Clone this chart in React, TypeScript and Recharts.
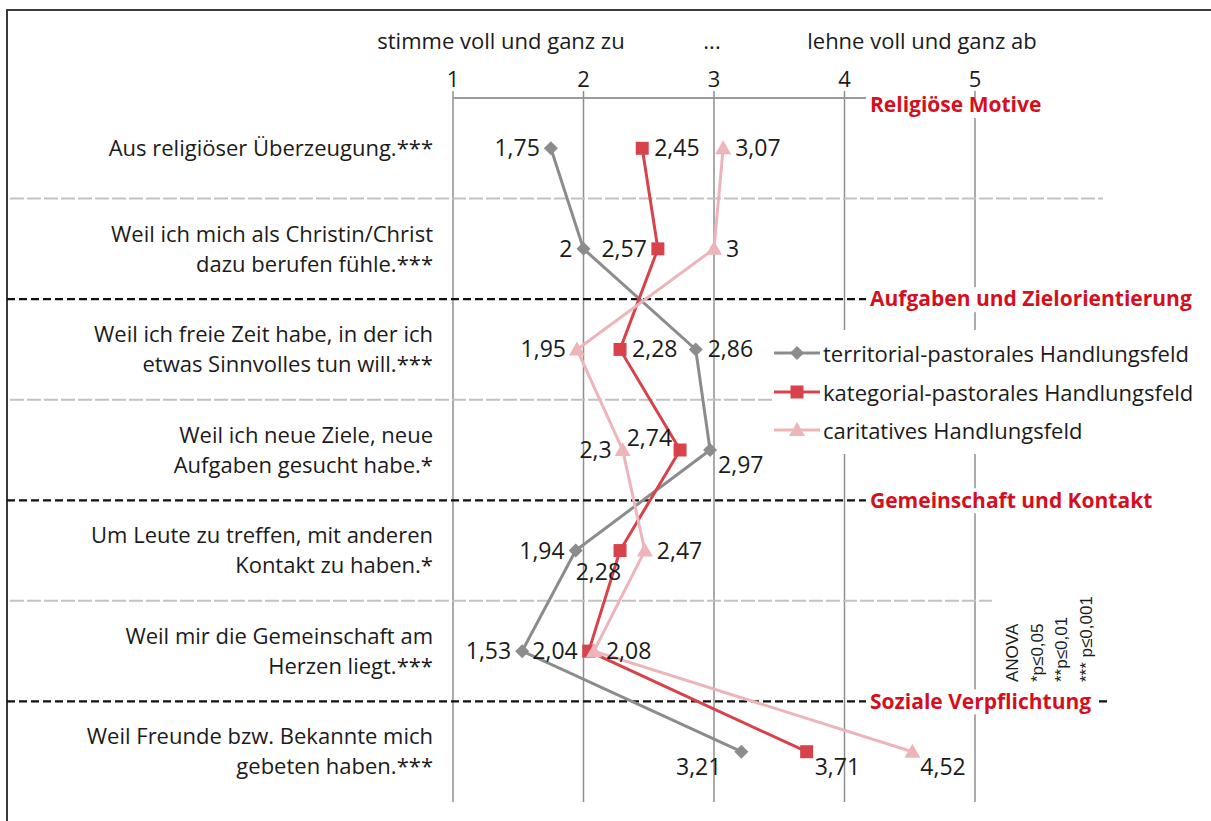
import { LineChart, Line, XAxis, YAxis, CartesianGrid, ReferenceLine, Legend } from "recharts";

const categories = [
  "Aus religiöser Überzeugung.***",
  "Weil ich mich als Christin/Christ\ndazu berufen fühle.***",
  "Weil ich freie Zeit habe, in der ich\netwas Sinnvolles tun will.***",
  "Weil ich neue Ziele, neue\nAufgaben gesucht habe.*",
  "Um Leute zu treffen, mit anderen\nKontakt zu haben.*",
  "Weil mir die Gemeinschaft am\nHerzen liegt.***",
  "Weil Freunde bzw. Bekannte mich\ngebeten haben.***",
];

const territorial = [1.75, 2, 2.86, 2.97, 1.94, 1.53, 3.21];
const kategorial = [2.45, 2.57, 2.28, 2.74, 2.28, 2.04, 3.71];
const caritativ = [3.07, 3, 1.95, 2.3, 2.47, 2.08, 4.52];

const xTicks = [1, 2, 3, 4, 5];

// section headings sit on the line above the given category
const sections = [
  { name: "Religiöse Motive", before: 1 },
  { name: "Aufgaben und Zielorientierung", before: 3 },
  { name: "Gemeinschaft und Kontakt", before: 5 },
  { name: "Soziale Verpflichtung", before: 7 },
];
const subDividers = [2, 4, 6];

const data = categories.map((label, i) => ({
  pos: i + 1,
  label,
  territorial: territorial[i],
  kategorial: kategorial[i],
  caritativ: caritativ[i],
}));

const FONT = "'Open Sans', Lato, sans-serif";
const TXT = "#1b1b1b";

type Place = "l" | "r" | "bl" | "br" | "al" | "b";

const series = [
  { key: "territorial", name: "territorial-pastorales Handlungsfeld", color: "#8c8c8c", marker: "diamond", places: ["l", "l", "r", "br", "l", "l", "bl"] as Place[] },
  { key: "kategorial", name: "kategorial-pastorales Handlungsfeld", color: "#d8434b", marker: "square", places: ["r", "l", "r", "al", "b", "l", "br"] as Place[] },
  { key: "caritativ", name: "caritatives Handlungsfeld", color: "#ecb5ba", marker: "triangle", places: ["r", "r", "l", "l", "r", "r", "br"] as Place[] },
];

function Marker({ cx, cy, kind, color }: { cx: number; cy: number; kind: string; color: string }) {
  if (kind === "diamond")
    return <polygon points={`${cx},${cy - 7} ${cx + 7},${cy} ${cx},${cy + 7} ${cx - 7},${cy}`} fill={color} />;
  if (kind === "square")
    return <rect x={cx - 6.5} y={cy - 6.5} width={13} height={13} fill={color} />;
  return <polygon points={`${cx},${cy - 8} ${cx + 8},${cy + 6} ${cx - 8},${cy + 6}`} fill={color} />;
}

const fmt = (v: number) => String(v).replace(".", ",");

function makeLabel(places: Place[]) {
  return (p: any) => {
    const place = places[p.index];
    let dx = 0;
    let dy = 0;
    let anchor: "start" | "end" | "middle" = "start";
    if (place === "l") { dx = -11; anchor = "end"; }
    if (place === "r") { dx = 12; }
    if (place === "br") { dx = 8; dy = 15; }
    if (place === "bl") { dx = -20; dy = 15; anchor = "end"; }
    if (place === "al") { dx = -8; dy = -12; anchor = "end"; }
    if (place === "b") { dx = 1; dy = 21; anchor = "end"; }
    return (
      <text key={`l${p.index}`} x={p.x + dx} y={p.y + dy} dy="0.35em" textAnchor={anchor} fontSize={23} fill={TXT} fontFamily={FONT}>
        {fmt(p.value)}
      </text>
    );
  };
}

function CategoryTick({ y, payload }: any) {
  const lines = categories[payload.value - 1].split("\n");
  const lh = 30;
  const start = y - ((lines.length - 1) * lh) / 2;
  return (
    <text textAnchor="end" fontSize={22} fill={TXT} fontFamily={FONT}>
      {lines.map((l, i) => (
        <tspan key={i} x={433} y={start + i * lh} dy="0.35em">{l}</tspan>
      ))}
    </text>
  );
}

function sectionShape(name: string, top: boolean) {
  return (p: any) => {
    const y = p.y1;
    const ty = top ? y + 7 : y;
    return (
      <g>
        {top ? (
          <line x1={p.x1} x2={p.x2} y1={y} y2={y} stroke="#9b9b9b" strokeWidth={2} />
        ) : (
          <line x1={7} x2={1110} y1={y} y2={y} stroke="#111" strokeWidth={2.2} strokeDasharray="8 4" />
        )}
        <rect x={866} y={ty - 12} width={name.length * 10.8 + 4} height={25} fill="#fff" />
        <text x={870} y={ty} dy="0.35em" fill="#d4101e" fontWeight={700} fontSize={21} fontFamily={FONT}>
          {name}
        </text>
      </g>
    );
  };
}

const dividerShape = (p: any) => (
  <line x1={10} x2={1103} y1={p.y1} y2={p.y1} stroke="#c2c2c2" strokeWidth={2} strokeDasharray="14 3" />
);

function LegendBox() {
  return (
    <div style={{ background: "#fff", width: 436, padding: "4px 0", fontFamily: FONT, fontSize: 22, color: TXT }}>
      {series.map((s) => (
        <div key={s.key} style={{ display: "flex", alignItems: "center", height: 38.5 }}>
          <svg width={50} height={20}>
            <line x1={2} x2={48} y1={10} y2={10} stroke={s.color} strokeWidth={3} />
            <Marker cx={25} cy={10} kind={s.marker} color={s.color} />
          </svg>
          <span style={{ marginLeft: 1, whiteSpace: "nowrap" }}>{s.name}</span>
        </div>
      ))}
    </div>
  );
}

const anova = [
  { text: "ANOVA", x: 1013 },
  { text: "*p≤0,05", x: 1038 },
  { text: "**p≤0,01", x: 1062 },
  { text: "*** p≤0,001", x: 1087 },
];

const headers = [
  { text: "stimme voll und ganz zu", x: 501 },
  { text: "...", x: 712 },
  { text: "lehne voll und ganz ab", x: 922 },
];

export default function App() {
  return (
    <div style={{ position: "absolute", left: 0, top: 0, width: 1211, height: 821, background: "#fff", overflow: "hidden", fontFamily: FONT }}>
      <div style={{ position: "absolute", left: 6, top: 9, width: 1300, height: 900, borderTop: "2px solid #3a3a3a", borderLeft: "2px solid #3a3a3a" }} />
      {headers.map((h) => (
        <div key={h.text} style={{ position: "absolute", left: h.x - 200, width: 400, top: 25, textAlign: "center", fontSize: 22, color: TXT, lineHeight: "30px" }}>
          {h.text}
        </div>
      ))}
      <div style={{ position: "absolute", left: 0, top: 0 }}>
        <LineChart layout="vertical" width={1211} height={821} data={data} margin={{ top: 0, right: 236, bottom: 19, left: 0 }} style={{ fontFamily: FONT }}>
          <CartesianGrid horizontal={false} stroke="#8f8f8f" strokeWidth={1.5} />
          <XAxis
            type="number"
            orientation="top"
            domain={[1, 5]}
            ticks={xTicks}
            interval={0}
            height={98}
            axisLine={false}
            tickSize={7}
            tickMargin={4}
            tickLine={{ stroke: "#8f8f8f", strokeWidth: 1.5 }}
            tick={{ fill: TXT, fontSize: 22, fontFamily: FONT }}
          />
          <YAxis
            type="number"
            dataKey="pos"
            domain={[0.5, 7.5]}
            ticks={categories.map((_, i) => i + 1)}
            interval={0}
            width={453}
            axisLine={false}
            tickLine={false}
            tick={<CategoryTick />}
          />
          {subDividers.map((c) => (
            <ReferenceLine key={`d${c}`} y={c - 0.5} shape={dividerShape} />
          ))}
          {sections.map((s) => (
            <ReferenceLine key={s.name} y={s.before - 0.5} shape={sectionShape(s.name, s.before === 1)} />
          ))}
          {series.map((s) => (
            <Line
              key={s.key}
              dataKey={s.key}
              name={s.name}
              stroke={s.color}
              strokeWidth={3}
              isAnimationActive={false}
              dot={(p: any) => <Marker key={`m${p.index}`} cx={p.cx} cy={p.cy} kind={s.marker} color={s.color} />}
              label={makeLabel(s.places)}
            />
          ))}
          <Legend
            layout="vertical"
            align="center"
            verticalAlign="middle"
            content={() => <LegendBox />}
            wrapperStyle={{ left: 772, top: 330, width: 436 }}
          />
        </LineChart>
      </div>
      <div style={{ position: "absolute", left: 992, top: 560, width: 115, height: 130, background: "#fff" }} />
      {anova.map((a) => (
        <div
          key={a.text}
          style={{
            position: "absolute",
            left: a.x - 11,
            top: 560,
            height: 122,
            width: 22,
            writingMode: "vertical-rl",
            transform: "rotate(180deg)",
            fontFamily: "'Liberation Sans', Arial, sans-serif",
            fontSize: 17,
            lineHeight: "22px",
            color: TXT,
            textAlign: "left",
          }}
        >
          {a.text}
        </div>
      ))}
    </div>
  );
}
